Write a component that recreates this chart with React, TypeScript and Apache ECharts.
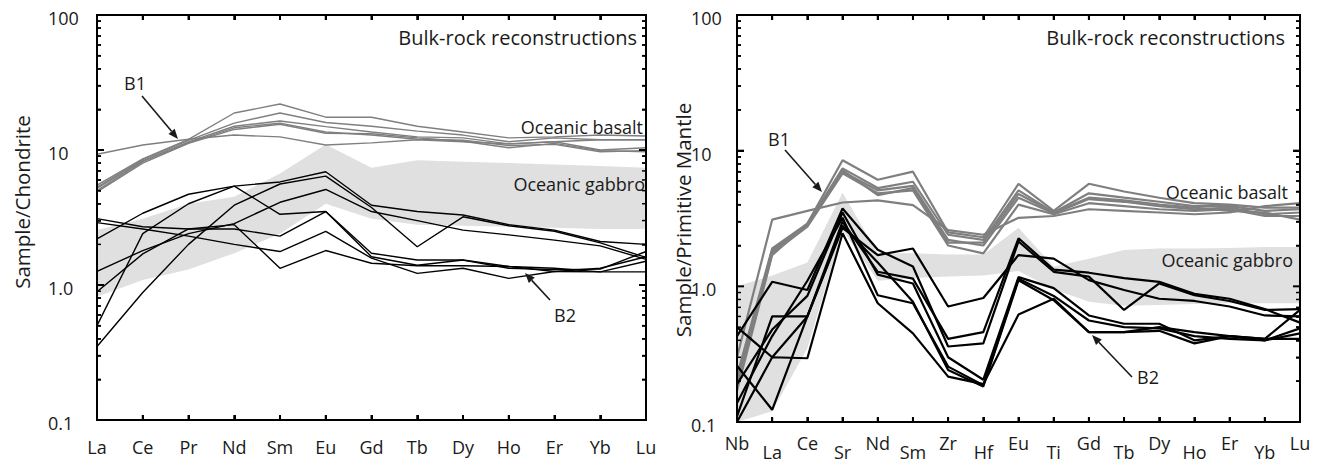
import React, { useEffect, useRef } from 'react';
import * as echarts from 'echarts';

// ---------- categories ----------
const REE = ['La', 'Ce', 'Pr', 'Nd', 'Sm', 'Eu', 'Gd', 'Tb', 'Dy', 'Ho', 'Er', 'Yb', 'Lu'];
const SPIDER = ['Nb', 'La', 'Ce', 'Sr', 'Nd', 'Sm', 'Zr', 'Hf', 'Eu', 'Ti', 'Gd', 'Tb', 'Dy', 'Ho', 'Er', 'Yb', 'Lu'];

// ---------- y ticks ----------
const Y_TICKS = [0.1, 1, 10, 100];
const Y_TICK_TEXT = ['0.1', '1.0', '10', '100'];
const Y_MINOR = [0.2, 0.3, 0.4, 0.5, 0.6, 0.7, 0.8, 0.9, 2, 3, 4, 5, 6, 7, 8, 9, 20, 30, 40, 50, 60, 70, 80, 90];

// ---------- left panel: chondrite-normalised ----------
const reeB1_1 = [9.3, 10.9, 12.0, 12.9, 12.5, 10.9, 11.3, 11.9, 11.5, 11.1, 11.5, 11.9, 11.9];
const reeB1_2 = [5.5, 8.6, 12.0, 18.8, 21.9, 17.5, 17.5, 15.0, 13.6, 12.3, 12.5, 12.9, 12.7];
const reeB1_3 = [5.3, 8.5, 11.8, 15.8, 18.8, 16.0, 15.0, 13.8, 12.9, 11.5, 12.3, 11.9, 11.9];
const reeB1_4 = [5.2, 8.3, 11.5, 15.0, 16.4, 14.9, 13.6, 12.5, 12.3, 11.1, 11.5, 10.0, 10.4];
const reeB1_5 = [5.0, 8.2, 11.3, 14.6, 15.8, 13.6, 12.9, 12.0, 11.8, 10.8, 11.0, 9.7, 9.9];
const reeB1_6 = [4.9, 8.0, 11.2, 14.2, 15.5, 13.3, 13.2, 12.3, 11.6, 10.4, 11.2, 9.9, 9.7];

const reeB2_1 = [2.2, 3.4, 4.7, 5.4, 5.8, 6.9, 3.9, 3.5, 3.3, 2.8, 2.55, 2.1, 2.0];
const reeB2_2 = [0.35, 0.88, 2.0, 3.9, 5.6, 6.4, 3.75, 1.92, 3.2, 2.75, 2.5, 2.05, 1.6];
const reeB2_3 = [1.26, 1.8, 2.4, 2.85, 4.1, 5.1, 3.5, 3.0, 2.55, 2.35, 2.15, 1.95, 1.55];
const reeB2_4 = [0.5, 2.4, 4.0, 5.4, 3.34, 3.5, 1.72, 1.53, 1.53, 1.33, 1.3, 1.31, 1.77];
const reeB2_5 = [3.1, 2.7, 2.6, 2.6, 2.3, 3.5, 1.62, 1.4, 1.53, 1.37, 1.33, 1.25, 1.5];
const reeB2_6 = [2.9, 2.6, 2.3, 2.0, 1.77, 2.5, 1.58, 1.22, 1.33, 1.12, 1.26, 1.33, 1.62];
const reeB2_7 = [0.89, 1.7, 2.6, 2.8, 1.33, 1.8, 1.45, 1.39, 1.39, 1.37, 1.26, 1.25, 1.25];

const reeGabbroUpper = [2.55, 3.1, 4.0, 4.5, 6.7, 11.0, 7.4, 8.4, 8.2, 8.0, 7.8, 7.6, 7.4];
const reeGabbroLower = [0.82, 1.09, 1.3, 1.72, 2.4, 4.0, 3.1, 2.8, 2.75, 2.7, 2.65, 2.6, 2.6];

// ---------- right panel: primitive-mantle-normalised ----------
const spB1_1 = [0.22, 1.9, 2.9, 8.5, 6.1, 7.0, 2.5, 2.3, 5.7, 3.6, 5.7, 5.0, 4.5, 4.1, 4.0, 3.8, 3.8];
const spB1_2 = [0.2, 1.85, 2.85, 7.4, 5.3, 5.9, 2.4, 2.2, 5.1, 3.5, 4.85, 4.5, 4.2, 3.9, 3.9, 3.6, 3.7];
const spB1_3 = [0.19, 1.8, 2.8, 7.0, 5.1, 5.5, 2.2, 2.0, 4.5, 3.45, 4.4, 4.2, 3.9, 3.7, 3.8, 3.4, 3.5];
const spB1_4 = [0.18, 1.75, 2.75, 6.8, 4.85, 5.1, 2.0, 1.75, 4.0, 3.4, 4.1, 3.9, 3.7, 3.6, 3.7, 3.3, 3.3];
const spB1_5 = [0.17, 1.7, 2.9, 7.2, 4.7, 5.3, 2.1, 2.1, 4.8, 3.5, 4.5, 4.3, 4.0, 3.8, 3.6, 3.5, 3.1];
const spB1_6 = [0.3, 3.1, 3.6, 4.15, 4.3, 3.97, 2.6, 2.4, 3.2, 3.3, 3.7, 3.6, 3.5, 3.4, 3.5, 3.9, 4.1];

const spB2_1 = [0.5, 0.3, 0.6, 3.0, 1.28, 1.14, 0.41, 0.46, 2.26, 1.33, 1.26, 1.15, 1.08, 0.88, 0.81, 0.68, 0.54];
const spB2_2 = [0.26, 0.123, 0.6, 2.7, 1.7, 1.9, 0.71, 0.82, 1.7, 1.6, 1.11, 0.94, 0.81, 0.78, 0.71, 0.61, 0.6];
const spB2_3 = [0.43, 1.08, 0.94, 3.75, 1.86, 1.4, 0.36, 0.38, 2.14, 1.28, 1.18, 0.67, 1.05, 0.86, 0.78, 0.67, 0.68];
const spB2_4 = [0.19, 0.48, 0.85, 3.5, 1.22, 1.05, 0.3, 0.205, 1.17, 0.97, 0.61, 0.53, 0.53, 0.4, 0.43, 0.41, 0.67];
const spB2_5 = [0.138, 0.43, 1.1, 3.2, 0.86, 0.75, 0.256, 0.187, 1.14, 0.85, 0.56, 0.5, 0.49, 0.43, 0.41, 0.4, 0.49];
const spB2_6 = [0.11, 0.6, 0.6, 2.8, 1.5, 0.77, 0.242, 0.183, 1.11, 0.79, 0.46, 0.46, 0.47, 0.38, 0.43, 0.41, 0.41];
const spB2_7 = [0.1, 0.3, 0.295, 2.46, 0.75, 0.45, 0.216, 0.19, 0.62, 0.81, 0.46, 0.46, 0.5, 0.46, 0.43, 0.4, 0.45];

const spGabbroUpper = [1.0, 1.2, 1.5, 4.9, 1.75, 1.75, 1.72, 1.72, 2.7, 1.4, 1.6, 1.85, 1.9, 1.9, 1.92, 1.95, 1.95];
const spGabbroLower = [0.1, 0.12, 0.35, 2.6, 1.1, 1.15, 1.18, 1.2, 1.3, 0.95, 0.77, 0.72, 0.73, 0.74, 0.75, 0.75, 0.75];

const reeB1 = [reeB1_1, reeB1_2, reeB1_3, reeB1_4, reeB1_5, reeB1_6];
const reeB2 = [reeB2_1, reeB2_2, reeB2_3, reeB2_4, reeB2_5, reeB2_6, reeB2_7];
const spB1 = [spB1_1, spB1_2, spB1_3, spB1_4, spB1_5, spB1_6];
const spB2 = [spB2_1, spB2_2, spB2_3, spB2_4, spB2_5, spB2_6, spB2_7];

const FONT = '"Open Sans", "Noto Sans", sans-serif';
const INK = '#1a1a1a';
const GRAY = '#7f7f7f';
const BAND = '#e0e0e0';

function makeY(position: string) {
  return {
    type: 'log',
    logBase: 10,
    gridIndex: 0,
    position,
    min: 0.1,
    max: 100,
    splitLine: { show: false },
    axisLine: { show: true, onZero: false, lineStyle: { color: '#000', width: 2 } },
    axisTick: { show: true, inside: true, length: 7, lineStyle: { color: '#000', width: 2 } },
    minorTick: { show: true, splitNumber: 9, length: 4, lineStyle: { color: '#000', width: 1.5 } },
    axisLabel: { show: false },
  };
}

function makeX(cats: string[], position: string) {
  return {
    type: 'category',
    gridIndex: 0,
    position,
    data: cats,
    boundaryGap: false,
    splitLine: { show: false },
    axisLine: { show: true, onZero: false, lineStyle: { color: '#000', width: 2 } },
    axisTick: { show: true, inside: true, length: 5, interval: 0, lineStyle: { color: '#000', width: 2 } },
    axisLabel: { show: false },
  };
}

function bandSeries(upper: number[], lower: number[]) {
  return {
    type: 'custom',
    z: 1,
    silent: true,
    data: [[0, upper[0]]],
    renderItem: (_p: any, api: any) => {
      const pts: number[][] = [];
      upper.forEach((v, i) => pts.push(api.coord([i, v])));
      for (let i = lower.length - 1; i >= 0; i--) pts.push(api.coord([i, lower[i]]));
      return { type: 'polygon', shape: { points: pts }, style: { fill: BAND } };
    },
  };
}

function lineSeries(data: number[], color: string, width: number) {
  return { type: 'line', data, symbol: 'none', silent: true, z: 3, lineStyle: { color, width } };
}

function seg(x1: number, y1: number, x2: number, y2: number, w: number) {
  return { type: 'line', silent: true, z: 50, shape: { x1, y1, x2, y2 }, style: { stroke: '#000', lineWidth: w } };
}

function arrow(x1: number, y1: number, x2: number, y2: number) {
  const ang = Math.atan2(y2 - y1, x2 - x1);
  const L = 10;
  const W = 4;
  const bx = x2 - L * Math.cos(ang);
  const by = y2 - L * Math.sin(ang);
  const px = -Math.sin(ang) * W;
  const py = Math.cos(ang) * W;
  return [
    { type: 'line', shape: { x1, y1, x2: bx, y2: by }, style: { stroke: INK, lineWidth: 1.6 }, z: 10 },
    { type: 'polygon', shape: { points: [[x2, y2], [bx + px, by + py], [bx - px, by - py]] }, style: { fill: INK }, z: 10 },
  ];
}

function txt(text: string, x: number, y: number, size: number, align: string, rotation = 0) {
  return {
    type: 'text',
    x,
    y,
    rotation,
    z: 10,
    style: { text, fontFamily: FONT, fontSize: size, fill: INK, align, verticalAlign: 'middle' },
  };
}

interface PanelCfg {
  cats: string[];
  grid: any;
  yLabelMargin: number;
  stagger: boolean;
  band: [number[], number[]];
  b1: number[][];
  b2: number[][];
  width: number;
  graphic: any[];
}

function buildPanel(chart: any, cfg: PanelCfg) {
  const series: any[] = [bandSeries(cfg.band[0], cfg.band[1])];
  cfg.b1.forEach((d) => series.push(lineSeries(d, GRAY, cfg.width)));
  cfg.b2.forEach((d) => series.push(lineSeries(d, '#000', cfg.width)));
  chart.setOption({
    animation: false,
    grid: [cfg.grid],
    xAxis: [makeX(cfg.cats, 'bottom'), makeX(cfg.cats, 'top')],
    yAxis: [makeY('left'), makeY('right')],
    series,
  });

  const finder = { xAxisIndex: 0, yAxisIndex: 0 };
  const px = (i: number, v: number) => {
    const p = chart.convertToPixel(finder, [i, v]);
    if (!p || !isFinite(p[0]) || !isFinite(p[1])) throw new Error('pixel');
    return p as number[];
  };
  try {
    const extra: any[] = [];
    const n = cfg.cats.length;
    const tl = px(0, Y_TICKS[Y_TICKS.length - 1]);
    const br = px(n - 1, Y_TICKS[0]);
    const x0 = tl[0], x1 = br[0], yTop = tl[1], yBot = br[1];

    // frame of the plot, drawn along the axes' own extents
    extra.push(seg(x0, yTop, x1, yTop, 2), seg(x0, yBot, x1, yBot, 2));
    extra.push(seg(x0, yTop - 1, x0, yBot + 1, 2), seg(x1, yTop - 1, x1, yBot + 1, 2));

    // category ticks (bottom and top, inward)
    cfg.cats.forEach((c, i) => {
      const p = px(i, Y_TICKS[0]);
      extra.push(seg(p[0], yBot, p[0], yBot - 5, 2), seg(p[0], yTop, p[0], yTop + 5, 2));
      const dy = cfg.stagger ? (i % 2 === 0 ? 20.5 : 30) : 27;
      extra.push(txt(c, p[0], yBot + dy, 18, 'center'));
    });

    // log ticks (left and right, inward)
    Y_TICKS.forEach((v, k) => {
      const y = px(0, v)[1];
      extra.push(seg(x0, y, x0 + 7, y, 2), seg(x1, y, x1 - 7, y, 2));
      extra.push(txt(Y_TICK_TEXT[k], x0 - cfg.yLabelMargin, y + 3, 18, 'left'));
    });
    Y_MINOR.forEach((v) => {
      const y = px(0, v)[1];
      extra.push(seg(x0, y, x0 + 4, y, 1.5), seg(x1, y, x1 - 4, y, 1.5));
    });

    chart.setOption({ graphic: [...cfg.graphic, ...extra] });
  } catch (e) {
    chart.setOption({
      xAxis: [{ axisLabel: { show: true, interval: 0, margin: 17, fontFamily: FONT, fontSize: 18, color: INK } }, {}],
      yAxis: [
        {
          axisLabel: {
            show: true,
            margin: cfg.yLabelMargin,
            align: 'left',
            fontFamily: FONT,
            fontSize: 18,
            color: INK,
            formatter: (v: number) => Y_TICK_TEXT[Math.round(Math.log10(v)) + 1] || '',
          },
        },
        {},
      ],
      graphic: cfg.graphic,
    });
  }
}

export default function App() {
  const leftRef = useRef<HTMLDivElement>(null);
  const rightRef = useRef<HTMLDivElement>(null);
  useEffect(() => {
    if (!leftRef.current || !rightRef.current) return;
    const cl = echarts.init(leftRef.current, undefined, { renderer: 'svg' });
    const cr = echarts.init(rightRef.current, undefined, { renderer: 'svg' });

    buildPanel(cl, {
      cats: REE,
      grid: { left: 97, top: 15, width: 549, height: 405 },
      yLabelMargin: 49,
      stagger: false,
      band: [reeGabbroUpper, reeGabbroLower],
      b1: reeB1,
      b2: reeB2,
      width: 1.4,
      graphic: [
        txt('Sample/Chondrite', 22, 202, 20.5, 'center', Math.PI / 2),
        txt('Bulk-rock reconstructions', 637, 37, 20, 'right'),
        txt('Oceanic basalt', 643, 127, 18, 'right'),
        txt('Oceanic gabbro', 645, 184, 18, 'right'),
        txt('B1', 135, 83, 18, 'center'),
        txt('B2', 565, 315, 18, 'center'),
        ...arrow(142, 96, 178, 139),
        ...arrow(550, 300, 525, 273),
      ],
    });
    buildPanel(cr, {
      cats: SPIDER,
      grid: { left: 77, top: 15, width: 563, height: 407 },
      yLabelMargin: 46,
      stagger: true,
      band: [spGabbroUpper, spGabbroLower],
      b1: spB1,
      b2: spB2,
      width: 2.2,
      graphic: [
        txt('Sample/Primitive Mantle', 23, 220, 20.5, 'center', Math.PI / 2),
        txt('Bulk-rock reconstructions', 625, 37, 20, 'right'),
        txt('Oceanic basalt', 628, 192, 18, 'right'),
        txt('Oceanic gabbro', 633, 260, 18, 'right'),
        txt('B1', 119, 139, 18, 'center'),
        txt('B2', 488, 377, 18, 'center'),
        ...arrow(125, 150, 162, 192),
        ...arrow(472, 377, 432, 335),
      ],
    });
    return () => {
      cl.dispose();
      cr.dispose();
    };
  }, []);
  return (
    <div>
      <div ref={leftRef} style={{ position: 'absolute', left: 0, top: 0, width: 660, height: 463 }} />
      <div ref={rightRef} style={{ position: 'absolute', left: 660, top: 0, width: 660, height: 463 }} />
    </div>
  );
}
